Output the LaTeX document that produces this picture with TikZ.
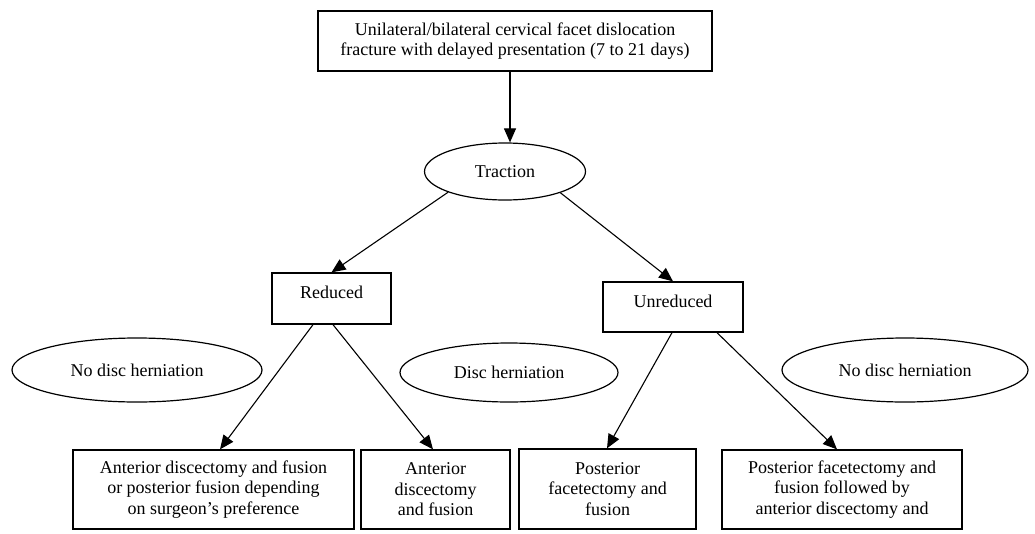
\documentclass[tikz,border=0pt]{standalone}
\usepackage{fontspec}
\setmainfont{Liberation Serif}
\usetikzlibrary{shapes.geometric,arrows.meta}
\begin{document}
\begin{tikzpicture}[x=1pt,y=-1pt,
  box/.style={draw, line width=1.3pt, rectangle, inner sep=0pt, align=center,
    font=\fontsize{18}{20.5}\selectfont},
  oval/.style={draw, line width=1.2pt, ellipse, inner sep=0pt,
    font=\fontsize{18}{20.5}\selectfont},
  arr/.style={line width=1.1pt, -{Triangle[length=14pt,width=12pt]}}]
\useasboundingbox (0,0) rectangle (1035,533);
\node[box, minimum width=394pt, minimum height=60pt] (top) at (515,41)
  {Unilateral/bilateral cervical facet dislocation\\fracture with delayed presentation (7 to 21 days)};
\node[oval, minimum width=161pt, minimum height=57pt] (trac) at (505,171.5) {Traction};
\node[box, minimum width=119pt, minimum height=51pt, text height=12pt, text depth=12pt] (red) at (331.5,298.5) {Reduced};
\node[box, minimum width=140pt, minimum height=50pt, text height=12pt, text depth=12pt] (unr) at (673,307) {Unreduced};
\node[oval, minimum width=250pt, minimum height=64pt] (nd1) at (137,370) {No disc herniation};
\node[oval, minimum width=218pt, minimum height=59pt] (dh) at (509,372.5) {Disc herniation};
\node[oval, minimum width=246pt, minimum height=64pt] (nd2) at (905,370) {No disc herniation};
\node[box, minimum width=281pt, minimum height=79pt] (b1) at (213.5,489.5)
  {Anterior discectomy and fusion\\or posterior fusion depending\\on surgeon’s preference};
\node[box, minimum width=149pt, minimum height=79pt] (b2) at (435.5,489.5)
  {Anterior\\discectomy\\and fusion};
\node[box, minimum width=177pt, minimum height=80pt] (b3) at (607.5,489)
  {Posterior\\facetectomy and\\fusion};
\node[box, minimum width=240pt, minimum height=79pt] (b4) at (842,489.5)
  {Posterior facetectomy and\\fusion followed by\\anterior discectomy and};
\draw[arr] ([xshift=-5pt]top.south) -- ([xshift=5pt]trac.north);
\draw[arr] (trac.200.7) -- (red.north);
\draw[arr] (trac.339.3) -- (unr.north);
\draw[arr] ([xshift=-18.5pt]red.south) -- ([xshift=6.5pt]b1.north);
\draw[arr] ([xshift=1.5pt]red.south) -- ([xshift=-2.5pt]b2.north);
\draw[arr] ([xshift=-1pt]unr.south) -- ([xshift=-0.5pt]b3.north);
\draw[arr] ([xshift=44pt]unr.south) -- ([xshift=-5pt]b4.north);
\end{tikzpicture}
\end{document}
